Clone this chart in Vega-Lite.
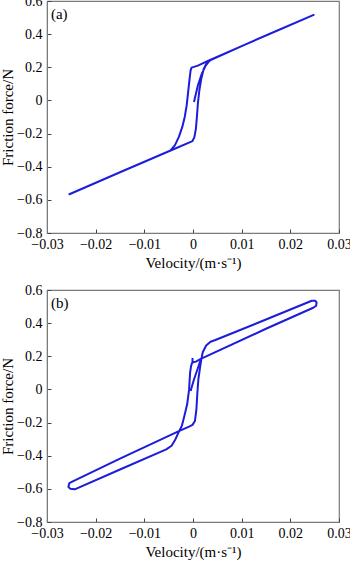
{
  "$schema": "https://vega.github.io/schema/vega-lite/v6.json",
  "padding": {"top": -7, "left": -1, "right": 0, "bottom": 0},
  "spacing": 11,
  "datasets": {
    "a": [
      {"s": 1, "i": 0, "x": 0.0002, "y": -0.01},
      {"s": 1, "i": 1, "x": 0.0010, "y": 0.09},
      {"s": 1, "i": 2, "x": 0.0018, "y": 0.16},
      {"s": 1, "i": 3, "x": 0.0026, "y": 0.21},
      {"s": 1, "i": 4, "x": 0.0034, "y": 0.24},
      {"s": 1, "i": 5, "x": 0.0100, "y": 0.328},
      {"s": 1, "i": 6, "x": 0.0170, "y": 0.418},
      {"s": 1, "i": 7, "x": 0.0248, "y": 0.516},
      {"s": 1, "i": 8, "x": 0.0170, "y": 0.417},
      {"s": 1, "i": 9, "x": 0.0100, "y": 0.328},
      {"s": 1, "i": 10, "x": 0.0034, "y": 0.243},
      {"s": 1, "i": 11, "x": 0.0010, "y": 0.210},
      {"s": 1, "i": 12, "x": -0.0003, "y": 0.198},
      {"s": 1, "i": 13, "x": -0.0005, "y": 0.18},
      {"s": 1, "i": 14, "x": -0.0007, "y": 0.13},
      {"s": 1, "i": 15, "x": -0.0010, "y": 0.05},
      {"s": 1, "i": 16, "x": -0.0013, "y": -0.03},
      {"s": 1, "i": 17, "x": -0.0017, "y": -0.10},
      {"s": 1, "i": 18, "x": -0.0022, "y": -0.16},
      {"s": 1, "i": 19, "x": -0.0029, "y": -0.22},
      {"s": 1, "i": 20, "x": -0.0037, "y": -0.27},
      {"s": 1, "i": 21, "x": -0.0046, "y": -0.302},
      {"s": 1, "i": 22, "x": -0.0150, "y": -0.434},
      {"s": 1, "i": 23, "x": -0.0254, "y": -0.566},
      {"s": 1, "i": 24, "x": -0.0150, "y": -0.433},
      {"s": 1, "i": 25, "x": -0.0046, "y": -0.302},
      {"s": 1, "i": 26, "x": -0.0001, "y": -0.246},
      {"s": 1, "i": 27, "x": 0.0003, "y": -0.22},
      {"s": 1, "i": 28, "x": 0.0006, "y": -0.17},
      {"s": 1, "i": 29, "x": 0.0008, "y": -0.10},
      {"s": 1, "i": 30, "x": 0.0010, "y": -0.02},
      {"s": 1, "i": 31, "x": 0.0013, "y": 0.06},
      {"s": 1, "i": 32, "x": 0.0017, "y": 0.13},
      {"s": 1, "i": 33, "x": 0.0022, "y": 0.19},
      {"s": 1, "i": 34, "x": 0.0028, "y": 0.225},
      {"s": 1, "i": 35, "x": 0.0036, "y": 0.243},
      {"s": 1, "i": 36, "x": 0.0100, "y": 0.328}
    ],
    "b": [
      {"s": 1, "i": 0, "x": -0.0005, "y": -0.01},
      {"s": 1, "i": 1, "x": 0.0002, "y": 0.06},
      {"s": 1, "i": 2, "x": 0.0009, "y": 0.12},
      {"s": 1, "i": 3, "x": 0.0016, "y": 0.18},
      {"s": 2, "i": 0, "x": -0.0001, "y": 0.19},
      {"s": 2, "i": 1, "x": -0.0001, "y": 0.165},
      {"s": 2, "i": 2, "x": -0.0002, "y": 0.16},
      {"s": 2, "i": 3, "x": -0.0004, "y": 0.14},
      {"s": 2, "i": 4, "x": -0.0006, "y": 0.10},
      {"s": 2, "i": 5, "x": -0.0008, "y": 0.0},
      {"s": 2, "i": 6, "x": -0.0012, "y": -0.09},
      {"s": 2, "i": 7, "x": -0.0018, "y": -0.163},
      {"s": 2, "i": 8, "x": -0.0023, "y": -0.22},
      {"s": 2, "i": 9, "x": -0.0029, "y": -0.255},
      {"s": 2, "i": 10, "x": -0.0036, "y": -0.30},
      {"s": 2, "i": 11, "x": -0.0044, "y": -0.34},
      {"s": 2, "i": 12, "x": -0.0055, "y": -0.362},
      {"s": 2, "i": 13, "x": -0.0150, "y": -0.483},
      {"s": 2, "i": 14, "x": -0.0243, "y": -0.603},
      {"s": 2, "i": 15, "x": -0.0252, "y": -0.600},
      {"s": 2, "i": 16, "x": -0.0256, "y": -0.588},
      {"s": 2, "i": 17, "x": -0.0254, "y": -0.565},
      {"s": 2, "i": 18, "x": -0.0246, "y": -0.553},
      {"s": 2, "i": 19, "x": -0.0150, "y": -0.418},
      {"s": 2, "i": 20, "x": -0.0029, "y": -0.252},
      {"s": 2, "i": 21, "x": -0.0008, "y": -0.224},
      {"s": 2, "i": 22, "x": -0.0001, "y": -0.214},
      {"s": 2, "i": 23, "x": 0.0004, "y": -0.19},
      {"s": 2, "i": 24, "x": 0.0007, "y": -0.12},
      {"s": 2, "i": 25, "x": 0.0009, "y": -0.02},
      {"s": 2, "i": 26, "x": 0.0011, "y": 0.06},
      {"s": 2, "i": 27, "x": 0.0014, "y": 0.122},
      {"s": 2, "i": 28, "x": 0.0017, "y": 0.18},
      {"s": 2, "i": 29, "x": 0.0020, "y": 0.224},
      {"s": 2, "i": 30, "x": 0.0027, "y": 0.265},
      {"s": 2, "i": 31, "x": 0.0036, "y": 0.288},
      {"s": 2, "i": 32, "x": 0.0046, "y": 0.298},
      {"s": 2, "i": 33, "x": 0.0150, "y": 0.422},
      {"s": 2, "i": 34, "x": 0.0244, "y": 0.535},
      {"s": 2, "i": 35, "x": 0.0251, "y": 0.535},
      {"s": 2, "i": 36, "x": 0.0254, "y": 0.525},
      {"s": 2, "i": 37, "x": 0.0253, "y": 0.505},
      {"s": 2, "i": 38, "x": 0.0247, "y": 0.493},
      {"s": 2, "i": 39, "x": 0.0150, "y": 0.366},
      {"s": 2, "i": 40, "x": 0.0016, "y": 0.184},
      {"s": 2, "i": 41, "x": 0.0006, "y": 0.168},
      {"s": 2, "i": 42, "x": -0.0001, "y": 0.162}
    ],
    "la": [{"x": -0.0292, "y": 0.52, "t": "(a)"}],
    "lb": [{"x": -0.0292, "y": 0.52, "t": "(b)"}]
  },
  "vconcat": [
    {
      "width": 292,
      "height": 232,
      "layer": [
        {
          "data": {"name": "a"},
          "mark": {"type": "line", "color": "#1c1cdc", "strokeWidth": 2, "strokeJoin": "round"},
          "encoding": {
            "x": {"field": "x", "type": "quantitative", "scale": {"domain": [-0.03, 0.03], "nice": false},
                  "axis": {"values": [-0.03, -0.02, -0.01, 0, 0.01, 0.02, 0.03], "tickCount": 20, "format": "~g", "title": "Velocity/(m·s⁻¹)", "labelPadding": 8, "titlePadding": 4}},
            "y": {"field": "y", "type": "quantitative", "scale": {"domain": [-0.8, 0.6], "nice": false, "zero": false},
                  "axis": {"values": [-0.8, -0.6, -0.4, -0.2, 0, 0.2, 0.4, 0.6], "tickCount": 20, "format": "~g", "title": "Friction force/N", "labelPadding": 9, "titlePadding": 1.5}},
            "detail": {"field": "s"},
            "order": {"field": "i", "type": "quantitative"}
          }
        },
        {
          "data": {"name": "la"},
          "mark": {"type": "text", "align": "left", "baseline": "middle", "font": "Liberation Serif", "fontSize": 15, "color": "#000"},
          "encoding": {
            "x": {"field": "x", "type": "quantitative"},
            "y": {"field": "y", "type": "quantitative"},
            "text": {"field": "t"}
          }
        }
      ]
    },
    {
      "width": 292,
      "height": 232,
      "layer": [
        {
          "data": {"name": "b"},
          "mark": {"type": "line", "color": "#1c1cdc", "strokeWidth": 2, "strokeJoin": "round"},
          "encoding": {
            "x": {"field": "x", "type": "quantitative", "scale": {"domain": [-0.03, 0.03], "nice": false},
                  "axis": {"values": [-0.03, -0.02, -0.01, 0, 0.01, 0.02, 0.03], "tickCount": 20, "format": "~g", "title": "Velocity/(m·s⁻¹)", "labelPadding": 8, "titlePadding": 4}},
            "y": {"field": "y", "type": "quantitative", "scale": {"domain": [-0.8, 0.6], "nice": false, "zero": false},
                  "axis": {"values": [-0.8, -0.6, -0.4, -0.2, 0, 0.2, 0.4, 0.6], "tickCount": 20, "format": "~g", "title": "Friction force/N", "labelPadding": 9, "titlePadding": 1.5}},
            "detail": {"field": "s"},
            "order": {"field": "i", "type": "quantitative"}
          }
        },
        {
          "data": {"name": "lb"},
          "mark": {"type": "text", "align": "left", "baseline": "middle", "font": "Liberation Serif", "fontSize": 15, "color": "#000"},
          "encoding": {
            "x": {"field": "x", "type": "quantitative"},
            "y": {"field": "y", "type": "quantitative"},
            "text": {"field": "t"}
          }
        }
      ]
    }
  ],
  "config": {
    "view": {"stroke": "#7a7a7a", "strokeWidth": 1.2},
    "axis": {
      "grid": false,
      "labelFont": "Liberation Serif",
      "labelFontSize": 14,
      "labelColor": "#000",
      "labelFlush": false,
      "labelOverlap": false,
      "titleFont": "Liberation Serif",
      "titleFontSize": 15,
      "titleFontWeight": "normal",
      "titleColor": "#000",
      "domainColor": "#7a7a7a",
      "tickColor": "#444",
      "tickSize": -4,
      "tickWidth": 1
    }
  }
}
